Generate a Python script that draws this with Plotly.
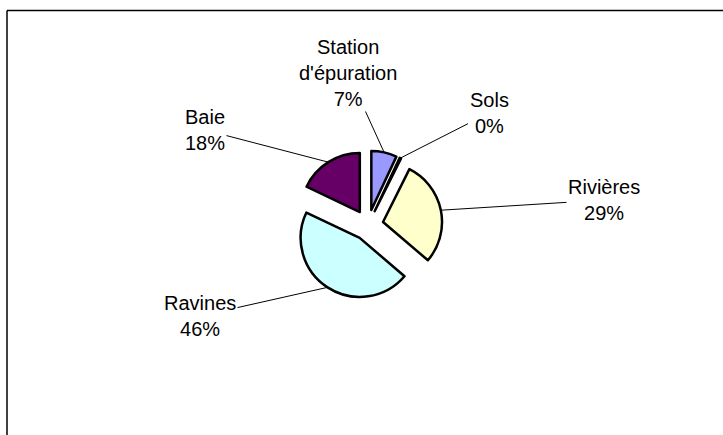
import math
import plotly.graph_objects as go

# Pollution sources (share of total load)
categories = ["Station d'épuration", "Sols", "Rivières", "Ravines", "Baie"]
label_names = ["Station<br>d'épuration", "Sols", "Rivières", "Ravines", "Baie"]
values = [7.0, 0.4, 29.0, 46.0, 18.0]
colors = ["#9999FF", "#993366", "#FFFFCC", "#CCFFFF", "#660066"]

# Layout constants (pixels)
W, H = 723, 435
CX, CY = 368, 225          # pie centre
R = 59                     # pie radius
PULL = 0.26                # explode fraction of radius
label_centres = [(348, 73), (489, 113), (604, 200), (200, 316), (205, 130)]

half = R * (1 + PULL)
dom_x = [(CX - half) / W, (CX + half) / W]
dom_y = [1 - (CY + half) / H, 1 - (CY - half) / H]

fig = go.Figure(go.Pie(
    labels=categories,
    values=values,
    sort=False,
    direction="clockwise",
    rotation=0,
    pull=[PULL] * len(values),
    marker=dict(colors=colors, line=dict(color="black", width=2.5)),
    textinfo="none",
    hoverinfo="skip",
    showlegend=False,
    domain=dict(x=dom_x, y=dom_y),
))

# Outside labels with leader lines pointing at each exploded slice
total = sum(values)
cum = 0.0
annotations = []
for name, v, (lx, ly) in zip(label_names, values, label_centres):
    mid = (cum + v / 2) / total * 2 * math.pi
    cum += v
    ux, uy = math.sin(mid), -math.cos(mid)
    tx = CX + R * (1 + PULL) * ux
    ty = CY + R * (1 + PULL) * uy
    pct = round(100 * v / total)
    annotations.append(dict(
        x=tx / W, y=1 - ty / H, xref="paper", yref="paper",
        ax=lx - tx, ay=ly - ty, axref="pixel", ayref="pixel",
        text=f"{name}<br>{pct}%",
        showarrow=True, arrowhead=0, arrowwidth=1, arrowcolor="black",
        standoff=0,
        font=dict(family="Liberation Sans, Arial, sans-serif", size=20, color="black"),
        align="center",
    ))

# Chart-area frame: only the top and left edges fall inside the page
fig.update_layout(
    width=W, height=H,
    margin=dict(l=0, r=0, t=0, b=0),
    paper_bgcolor="white",
    plot_bgcolor="white",
    annotations=annotations,
    shapes=[
        dict(type="line", xref="paper", yref="paper",
             x0=7 / W, x1=1, y0=1 - 10.5 / H, y1=1 - 10.5 / H,
             line=dict(color="black", width=1.5)),
        dict(type="line", xref="paper", yref="paper",
             x0=7 / W, x1=7 / W, y0=0, y1=1 - 10.5 / H,
             line=dict(color="black", width=1.5)),
    ],
)

fig.write_html("out.html")
